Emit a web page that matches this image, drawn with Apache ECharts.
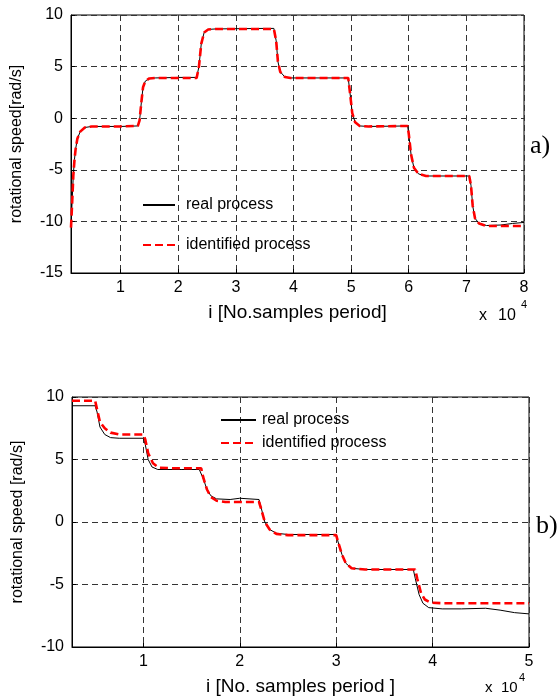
<!DOCTYPE html>
<html>
<head>
<meta charset="utf-8">
<script src="https://cdn.jsdelivr.net/npm/echarts@6/dist/echarts.min.js"></script>
<style>
  html, body { margin: 0; padding: 0; background: #fff; }
  #chart { width: 557px; height: 700px; }
</style>
</head>
<body>
<div id="chart"></div>
<script>
// x values are in units of 10^4 samples
const topReal = [
  [0.14, -10.5], [0.16, -8], [0.18, -5.5], [0.2, -4], [0.22, -3], [0.25, -2], [0.3, -1.3],
  [0.38, -0.9], [0.5, -0.8], [1.0, -0.8], [1.3, -0.75], [1.33, -0.2], [1.36, 1.5], [1.39, 3.0],
  [1.43, 3.6], [1.5, 3.85], [1.6, 3.9], [2.0, 3.95], [2.32, 3.95], [2.36, 5], [2.4, 7.2],
  [2.45, 8.3], [2.52, 8.6], [2.65, 8.65], [3.5, 8.7], [3.66, 8.7], [3.7, 7.5], [3.73, 5.5],
  [3.77, 4.5], [3.85, 4.0], [3.95, 3.9], [4.5, 3.9], [4.95, 3.9], [4.98, 2.5], [5.02, 0.5],
  [5.07, -0.4], [5.15, -0.75], [5.3, -0.8], [5.98, -0.75], [6.0, -1.5], [6.04, -3.5],
  [6.09, -4.8], [6.17, -5.4], [6.3, -5.6], [7.05, -5.6], [7.08, -6.5], [7.11, -8.5],
  [7.15, -9.7], [7.22, -10.2], [7.35, -10.4], [7.6, -10.35], [7.8, -10.2], [8.0, -10.1]
];
const topIdent = [
  [0.14, -10.6], [0.16, -8.2], [0.18, -5.6], [0.2, -4.1], [0.22, -3], [0.25, -2], [0.3, -1.3],
  [0.38, -0.9], [0.5, -0.8], [1.0, -0.8], [1.3, -0.75], [1.33, -0.2], [1.36, 1.5], [1.39, 3.0],
  [1.43, 3.6], [1.5, 3.85], [1.6, 3.9], [2.0, 3.9], [2.32, 3.9], [2.36, 5], [2.4, 7.2],
  [2.45, 8.3], [2.52, 8.6], [2.65, 8.65], [3.5, 8.65], [3.66, 8.65], [3.7, 7.5], [3.73, 5.5],
  [3.77, 4.5], [3.85, 4.0], [3.95, 3.9], [4.5, 3.9], [4.95, 3.9], [4.98, 2.5], [5.02, 0.5],
  [5.07, -0.4], [5.15, -0.75], [5.3, -0.8], [5.98, -0.75], [6.0, -1.5], [6.04, -3.5],
  [6.09, -4.8], [6.17, -5.4], [6.3, -5.6], [7.05, -5.6], [7.08, -6.5], [7.11, -8.5],
  [7.15, -9.7], [7.22, -10.2], [7.35, -10.45], [7.6, -10.45], [8.0, -10.45]
];
const botReal = [
  [0.26, 9.3], [0.5, 9.3], [0.52, 8.8], [0.55, 7.6], [0.6, 7.0], [0.66, 6.75], [0.75, 6.7],
  [1.0, 6.7], [1.02, 6.2], [1.05, 5.0], [1.09, 4.4], [1.15, 4.2], [1.4, 4.2], [1.58, 4.2],
  [1.62, 3.5], [1.66, 2.6], [1.7, 2.1], [1.76, 1.85], [1.9, 1.8], [2.0, 1.9], [2.2, 1.8],
  [2.22, 1.2], [2.26, 0.0], [2.31, -0.6], [2.38, -0.9], [2.5, -1.0], [3.0, -1.0],
  [3.02, -1.6], [3.06, -2.6], [3.1, -3.3], [3.16, -3.7], [3.3, -3.8], [3.8, -3.8],
  [3.82, -4.5], [3.86, -5.8], [3.9, -6.5], [3.96, -6.85], [4.1, -6.95], [4.3, -6.95],
  [4.55, -6.9], [4.7, -7.05], [4.85, -7.25], [5.0, -7.35]
];
const botIdent = [
  [0.26, 9.7], [0.5, 9.7], [0.52, 9.0], [0.55, 8.0], [0.6, 7.5], [0.66, 7.15], [0.75, 7.0],
  [1.0, 7.0], [1.02, 6.6], [1.05, 5.5], [1.1, 4.7], [1.16, 4.35], [1.3, 4.3], [1.6, 4.3],
  [1.62, 3.6], [1.66, 2.6], [1.7, 2.0], [1.76, 1.7], [1.85, 1.6], [2.2, 1.6], [2.22, 1.1],
  [2.26, 0.0], [2.31, -0.6], [2.38, -0.95], [2.5, -1.05], [3.0, -1.05], [3.02, -1.6],
  [3.06, -2.6], [3.1, -3.3], [3.16, -3.7], [3.3, -3.8], [3.82, -3.8], [3.84, -4.5],
  [3.88, -5.7], [3.92, -6.2], [3.98, -6.45], [4.1, -6.5], [5.0, -6.5]
];
const seriesNames = ['real process', 'identified process'];

const FONT = 'Liberation Sans, Arial, sans-serif';
const black = '#000';
const red = '#ff0000';

// x axis starts off-tick (0.14 / 0.26), so let ECharts pick the unit ticks itself
function xAxisOf(gridIndex, min, max, splitNumber, name) {
  return {
    type: 'value', gridIndex, min, max, splitNumber,
    name, nameLocation: 'middle', nameGap: 30,
    nameTextStyle: { color: black, fontFamily: FONT, fontSize: 19 },
    axisLine: { show: true, onZero: false, lineStyle: { color: black, width: 1 } },
    axisTick: { show: true, inside: true, length: 4, lineStyle: { color: black } },
    axisLabel: { color: black, fontFamily: FONT, fontSize: 16, margin: 7, showMinLabel: false },
    splitLine: { show: true, lineStyle: { color: '#333', width: 1, type: [6, 4] } }
  };
}

function yAxisOf(gridIndex, min, max, name) {
  return {
    type: 'value', gridIndex, min, max, interval: 5,
    name, nameLocation: 'middle', nameGap: 46,
    nameTextStyle: { color: black, fontFamily: FONT, fontSize: 16 },
    axisLine: { show: true, onZero: false, lineStyle: { color: black, width: 1 } },
    axisTick: { show: true, inside: true, length: 4, lineStyle: { color: black } },
    axisLabel: { color: black, fontFamily: FONT, fontSize: 16, margin: 8 },
    splitLine: { show: true, lineStyle: { color: '#333', width: 1, type: [6, 4] } }
  };
}

function realSeries(idx, data) {
  return {
    name: seriesNames[0], type: 'line', xAxisIndex: idx, yAxisIndex: idx, data,
    symbol: 'none', z: 3,
    lineStyle: { color: black, width: 1 }, itemStyle: { color: black }
  };
}
function identSeries(idx, data) {
  return {
    name: seriesNames[1], type: 'line', xAxisIndex: idx, yAxisIndex: idx, data,
    symbol: 'none', z: 4,
    lineStyle: { color: red, width: 2.6, type: [8, 4] }, itemStyle: { color: red }
  };
}

const legendBase = {
  orient: 'vertical', itemHeight: 14, data: seriesNames, selectedMode: false,
  itemStyle: { opacity: 0 }
};

const chart = echarts.init(document.getElementById('chart'), null, { renderer: 'canvas' });
chart.setOption({
  animation: false,
  backgroundColor: '#fff',
  grid: [
    { left: 71, top: 15, width: 453, height: 258, show: true, borderColor: black, borderWidth: 1 },
    { left: 72, top: 397, width: 457, height: 250, show: true, borderColor: black, borderWidth: 1 }
  ],
  xAxis: [
    xAxisOf(0, 0.14, 8, 8, 'i [No.samples period]'),
    xAxisOf(1, 0.26, 5, 5, 'i [No. samples period ]')
  ],
  yAxis: [
    yAxisOf(0, -15, 10, 'rotational speed[rad/s]'),
    yAxisOf(1, -10, 10, 'rotational speed [rad/s]')
  ],
  legend: [
    Object.assign({}, legendBase, {
      left: 137, top: 192, itemWidth: 32, itemGap: 24,
      textStyle: { color: black, fontFamily: FONT, fontSize: 16, padding: [0, 0, 0, 6] }
    }),
    Object.assign({}, legendBase, {
      left: 215, top: 407, itemWidth: 35, itemGap: 7,
      textStyle: { color: black, fontFamily: FONT, fontSize: 16, padding: [0, 0, 0, 1] }
    })
  ],
  graphic: [
    { type: 'text', left: 479, top: 308, style: { text: 'x', font: '16px ' + FONT, fill: black } },
    { type: 'text', left: 498, top: 308, style: { text: '10', font: '16px ' + FONT, fill: black } },
    { type: 'text', left: 521, top: 299, style: { text: '4', font: '11px ' + FONT, fill: black } },
    { type: 'text', left: 485, top: 680, style: { text: 'x', font: '15px ' + FONT, fill: black } },
    { type: 'text', left: 501, top: 680, style: { text: '10', font: '15px ' + FONT, fill: black } },
    { type: 'text', left: 519, top: 672, style: { text: '4', font: '11px ' + FONT, fill: black } },
    { type: 'text', left: 530, top: 133, style: { text: 'a)', font: '26px Liberation Serif, Times New Roman, serif', fill: black } },
    { type: 'text', left: 536, top: 513, style: { text: 'b)', font: '26px Liberation Serif, Times New Roman, serif', fill: black } }
  ],
  series: [
    realSeries(0, topReal), identSeries(0, topIdent),
    realSeries(1, botReal), identSeries(1, botIdent)
  ]
});
</script>
</body>
</html>
